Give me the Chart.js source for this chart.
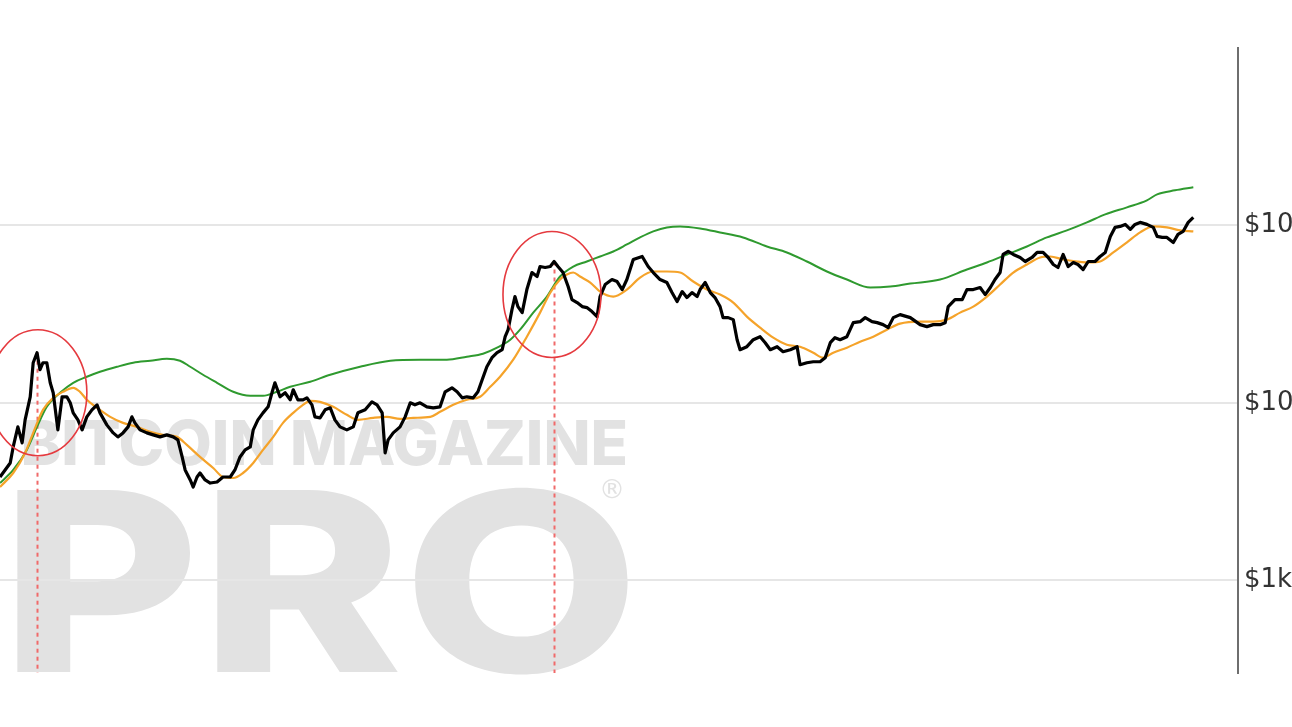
<!DOCTYPE html>
<html>
<head>
<meta charset="utf-8">
<script src="https://cdn.jsdelivr.net/npm/chart.js@4.4.1/dist/chart.umd.min.js"></script>
<style>
  html,body{margin:0;padding:0;background:#fff;overflow:hidden;}
  #wrap{width:1292px;height:727px;position:relative;}
  canvas{display:block;background:#fff;}
</style>
</head>
<body>
<div id="wrap"><canvas id="c" width="1292" height="727"></canvas></div>
<script>
// ---- DATA (days since start of visible window, USD prices, log scale) ----
const priceDays = [0,24,31,42,52,59,71,78,87,94,101,110,118,125,136,146,157,165,172,183,193,204,216,228,235,251,266,277,289,301,310,317,329,345,360,376,392,407,418,428,435,447,454,463,470,482,494,510,524,541,552,564,576,588,595,606,618,630,639,646,658,670,682,689,700,712,721,733,740,752,764,776,787,799,815,830,841,858,874,886,898,905,912,924,940,952,964,975,987,1003,1018,1034,1046,1062,1074,1086,1097,1112,1123,1133,1144,1156,1168,1180,1187,1194,1203,1210,1217,1227,1238,1250,1262,1269,1281,1293,1302,1311,1323,1335,1344,1356,1368,1379,1391,1403,1410,1422,1438,1450,1462,1473,1488,1509,1523,1535,1551,1567,1579,1591,1603,1614,1626,1638,1645,1657,1669,1680,1692,1699,1711,1723,1732,1739,1755,1770,1786,1798,1810,1826,1840,1857,1873,1880,1896,1911,1927,1939,1951,1962,1974,1990,2005,2021,2033,2049,2061,2075,2087,2099,2115,2139,2162,2178,2193,2209,2221,2228,2244,2261,2272,2287,2303,2315,2327,2338,2350,2357,2369,2381,2397,2409,2425,2437,2451,2463,2475,2486,2498,2510,2522,2533,2545,2557,2573,2585,2597,2609,2620,2632,2644,2656,2667,2679,2695,2710,2719,2731,2742,2757,2768,2780,2792,2804];
const priceValues = [3819,4582,5642,7318,5943,8016,10812,16826,19164,15362,16826,16826,12972,11389,7038,10812,10812,10000,8780,8016,7038,8334,9130,9743,8780,7511,6769,6426,6769,7318,8334,7709,7038,6769,6595,6426,6595,6426,6180,4954,4183,3673,3353,3819,4022,3673,3531,3578,3819,3819,4183,4954,5426,5642,7038,8016,8780,9493,11389,12972,10812,11389,10398,11843,10398,10398,10672,9743,8334,8227,9130,9370,8016,7318,7038,7318,8780,9130,10131,9743,8780,5218,6180,6769,7318,8334,10000,9743,10000,9493,9370,9493,11538,12155,11538,10672,10812,10672,11538,13488,15973,17958,19164,19928,23598,25848,33530,39708,34864,32246,43494,54257,51506,58661,57903,58661,62604,58661,54257,45224,38189,36727,34864,34414,32668,30611,39708,46416,49535,48263,43494,49535,64255,66812,58661,54257,49535,47640,41829,37208,42377,39195,41829,39708,43494,47640,41829,39195,34864,30215,30215,29439,22694,19928,20721,22694,23598,21825,19928,20721,19415,19928,20721,16394,16826,17047,17047,17958,21825,23293,22694,23598,28313,28683,30215,28683,28313,27586,26530,30215,31418,30215,27586,26877,27586,27586,28313,34864,38189,38189,43494,43494,44640,40755,44640,49535,54257,68573,71302,68573,65949,62604,65949,70381,70381,65949,60208,57903,68573,58661,61795,60208,56416,62604,62604,66812,70381,86675,97441,98717,101310,94939,101310,103980,101310,97441,86675,85555,85555,80161,88960,92500,103980,110970];

const shortMaDays = [0,31,59,78,101,125,148,172,188,204,228,259,289,322,353,383,416,439,470,501,524,548,571,595,618,642,665,689,712,729,752,783,815,841,877,909,940,971,1011,1034,1065,1097,1128,1152,1175,1206,1238,1269,1293,1316,1332,1347,1363,1387,1410,1441,1473,1504,1535,1567,1598,1629,1661,1692,1723,1755,1786,1817,1849,1880,1911,1934,1958,1990,2021,2052,2084,2115,2162,2193,2225,2256,2287,2319,2350,2381,2413,2444,2468,2498,2531,2562,2585,2616,2648,2679,2710,2742,2773,2804];
const shortMaValues = [3353,4022,5218,6769,9130,10672,11538,12155,11538,10398,9370,8334,7709,7318,6858,6595,6426,5790,4954,4293,3819,3769,4022,4582,5426,6426,7709,8780,9743,10264,10131,9493,8555,8016,8227,8334,8121,8227,8334,8895,9743,10398,10812,12314,14025,17497,23598,32246,41829,49535,52866,54257,51506,47640,42377,39708,43494,50840,54966,54966,54257,48263,43494,40755,36727,30611,26530,23293,21265,20721,19164,17958,19164,20452,22111,23598,25848,27947,28683,28683,29439,32246,34864,39708,46416,54257,60208,65949,66812,64255,62604,61795,62604,70381,80161,91305,98717,97441,93712,92500];

const longMaDays = [0,31,63,87,110,141,172,204,235,275,313,353,392,423,447,477,510,548,588,618,651,682,729,776,846,917,987,1050,1097,1135,1168,1199,1222,1253,1285,1316,1347,1379,1410,1441,1473,1504,1535,1567,1598,1645,1692,1746,1802,1849,1896,1943,1990,2045,2092,2139,2209,2272,2319,2366,2413,2460,2507,2554,2597,2648,2695,2719,2761,2804];
const longMaValues = [3531,4183,5426,7318,9493,11389,12972,14025,14967,15973,16826,17270,17725,17270,15973,14395,12972,11538,10953,10953,11538,12314,13142,14395,15973,17270,17497,17497,18193,18916,20452,22694,25848,32246,39708,51506,58661,62604,66812,71302,78102,85555,92500,97441,98717,96183,91305,85555,76097,70381,62604,54966,49535,44640,45224,47024,49535,56416,61795,68573,76097,85555,93712,103980,115390,126390,138430,149670,157660,163930];

const tickValues = [1000, 10000, 100000];
const tickLabels = ['$1k', '$10k', '$100k'];

// Marked tops (peak day, peak price) and circle centres (day, price)
const peakDays = [87, 1302];
const peakPrices = [19164, 62604];
const circleDays = [89, 1297];
const circlePrices = [11400, 40800];

const xMin = 0, xMax = 2909, yMin = 300, yMax = 1000000;

const pts = (xs, ys) => xs.map((x, i) => ({x, y: ys[i]}));

const overlay = {
  id: 'overlay',
  beforeDraw(chart) {
    const ctx = chart.ctx;
    ctx.save();
    ctx.fillStyle = '#e2e2e2';
    ctx.textBaseline = 'alphabetic';
    ctx.textAlign = 'left';
    // "BITCOIN MAGAZINE"
    ctx.font = '800 62px Inter, "Open Sans", sans-serif';
    const wM = ctx.measureText('MAGAZINE').width;
    const sx1 = 338 / wM;
    const wAll = ctx.measureText('BITCOIN MAGAZINE').width * sx1;
    ctx.save();
    ctx.translate(628 - wAll, 465);
    ctx.scale(sx1, 1);
    ctx.fillText('BITCOIN MAGAZINE', 0, 0);
    ctx.restore();
    // "PRO"
    ctx.font = '800 250px Inter, "Open Sans", sans-serif';
    const wP = ctx.measureText('PRO').width;
    const sx2 = 640 / wP;
    ctx.save();
    ctx.translate(0, 672);
    ctx.scale(sx2, 1);
    ctx.fillText('PRO', 0, 0);
    ctx.restore();
    ctx.font = '26px "DejaVu Sans", sans-serif';
    ctx.textAlign = 'center';
    ctx.textBaseline = 'middle';
    ctx.fillText('\u00AE', 612, 491);
    ctx.restore();
  },
  beforeDatasetsDraw(chart) {
    const {ctx, chartArea, scales} = chart;
    ctx.save();
    ctx.strokeStyle = '#f06a6a';
    ctx.lineWidth = 2;
    ctx.setLineDash([4, 4]);
    peakDays.forEach((d, i) => {
      const x = Math.round(scales.x.getPixelForValue(d)) + 0.5;
      const y = scales.y.getPixelForValue(peakPrices[i]);
      ctx.beginPath();
      ctx.moveTo(x, y);
      ctx.lineTo(x, chartArea.bottom);
      ctx.stroke();
    });
    ctx.restore();
  },
  afterDatasetsDraw(chart) {
    const {ctx, scales} = chart;
    ctx.save();
    ctx.strokeStyle = '#e53a3f';
    ctx.lineWidth = 1.6;
    circleDays.forEach((d, i) => {
      const cx = scales.x.getPixelForValue(d);
      const cy = scales.y.getPixelForValue(circlePrices[i]);
      ctx.beginPath();
      ctx.ellipse(cx, cy, 49, 63, 0, 0, Math.PI * 2);
      ctx.stroke();
    });
    ctx.restore();
  }
};

new Chart(document.getElementById('c'), {
  type: 'line',
  data: {
    datasets: [
      { label: 'Price', data: pts(priceDays, priceValues), borderColor: '#000', borderWidth: 3.2, pointRadius: 0, tension: 0, borderJoinStyle: 'round' },
      { label: 'Short MA', data: pts(shortMaDays, shortMaValues), borderColor: '#f5a32a', borderWidth: 2.2, pointRadius: 0, cubicInterpolationMode: 'monotone' },
      { label: 'Long MA x2', data: pts(longMaDays, longMaValues), borderColor: '#2f9a2f', borderWidth: 2, pointRadius: 0, cubicInterpolationMode: 'monotone' }
    ]
  },
  options: {
    responsive: false,
    animation: false,
    devicePixelRatio: 1,
    layout: { padding: { top: 48, bottom: 54, left: 0, right: 0 } },
    plugins: { legend: { display: false }, tooltip: { enabled: false } },
    scales: {
      x: { type: 'linear', min: xMin, max: xMax, display: false },
      y: {
        type: 'logarithmic', position: 'right', min: yMin, max: yMax,
        afterBuildTicks: s => { s.ticks = tickValues.map(v => ({ value: v })); },
        afterFit: s => { s.width = 54; },
        grid: { color: '#e6e6e6', lineWidth: 2, drawTicks: false },
        border: { color: '#6e6e6e', width: 2 },
        ticks: {
          padding: 6, color: '#333',
          font: { family: 'DejaVu Sans', size: 26 },
          callback: (v, i) => tickLabels[i]
        }
      }
    }
  },
  plugins: [overlay]
});
</script>
</body>
</html>
